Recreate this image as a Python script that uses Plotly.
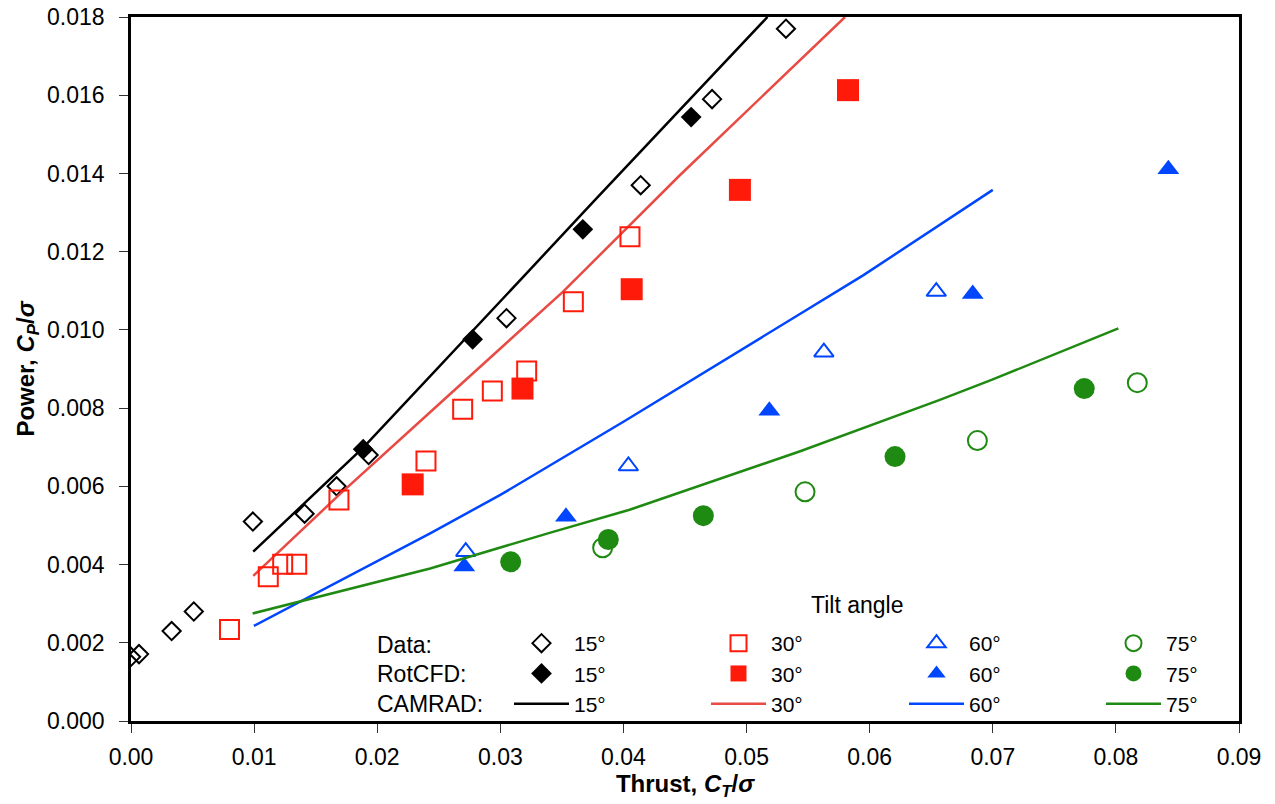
import plotly.graph_objects as go

# ---------------- data ----------------
data15_x = [0.0000, 0.00065, 0.0033, 0.0051, 0.0099, 0.0141, 0.0167, 0.0193, 0.0305, 0.0414, 0.0472, 0.0532]
data15_y = [0.00164, 0.00171, 0.0023, 0.0028, 0.0051, 0.0053, 0.0060, 0.0068, 0.0103, 0.0137, 0.0159, 0.0177]
cfd15_x = [0.01886, 0.02775, 0.0367, 0.0455]
cfd15_y = [0.00695, 0.00976, 0.01257, 0.01544]
cam15_x = [0.00993, 0.0189, 0.0319, 0.0376, 0.0517]
cam15_y = [0.00433, 0.0070, 0.01137, 0.01329, 0.0180]

data30_x = [0.0080, 0.01115, 0.01232, 0.01346, 0.01689, 0.02396, 0.02694, 0.02935, 0.03214, 0.03593, 0.04053]
data30_y = [0.00234, 0.00369, 0.00401, 0.00401, 0.00565, 0.00665, 0.00797, 0.00844, 0.00895, 0.01072, 0.01238]
cfd30_x = [0.02288, 0.0318, 0.04067, 0.04946, 0.05824]
cfd30_y = [0.00605, 0.0085, 0.01104, 0.01358, 0.01613]
cam30_x = [0.00993, 0.0169, 0.0255, 0.0351, 0.0446, 0.0580]
cam30_y = [0.00371, 0.00578, 0.00824, 0.01098, 0.01396, 0.0180]

data60_x = [0.02719, 0.0404, 0.05628, 0.06541]
data60_y = [0.00433, 0.00652, 0.00943, 0.01098]
cfd60_x = [0.02707, 0.03533, 0.05185, 0.06837, 0.08426]
cfd60_y = [0.00395, 0.00522, 0.00793, 0.01092, 0.01411]
cam60_x = [0.00998, 0.0243, 0.0300, 0.0400, 0.0543, 0.0595, 0.0700]
cam60_y = [0.00243, 0.0048, 0.00578, 0.00765, 0.0104, 0.0114, 0.01358]

data75_x = [0.03831, 0.05475, 0.06875, 0.08174]
data75_y = [0.00443, 0.00586, 0.00717, 0.00865]
cfd75_x = [0.03084, 0.03877, 0.04649, 0.06206, 0.07743]
cfd75_y = [0.00407, 0.00464, 0.00525, 0.00676, 0.0085]
cam75_x = [0.00988, 0.0191, 0.0243, 0.0340, 0.0405, 0.0543, 0.0657, 0.0699, 0.0802]
cam75_y = [0.00275, 0.00348, 0.0039, 0.00481, 0.0054, 0.00689, 0.00821, 0.00872, 0.01004]

x_ticks = [0.00, 0.01, 0.02, 0.03, 0.04, 0.05, 0.06, 0.07, 0.08, 0.09]
y_ticks = [0.000, 0.002, 0.004, 0.006, 0.008, 0.010, 0.012, 0.014, 0.016, 0.018]
angle_labels = ["15°", "30°", "60°", "75°"]
row_labels = ["Data:", "RotCFD:", "CAMRAD:"]

# ---------------- styles ----------------
FONT = "Liberation Sans, Arial, sans-serif"
FS = 23
LFS = 21
BLACK = "#000000"
RED = "#ff1a0a"
RED_LINE = "#e84a44"
BLUE = "#0046ff"
GREEN = "#1f8a12"

fig = go.Figure()

series = [
    (data15_x, data15_y, cfd15_x, cfd15_y, cam15_x, cam15_y, BLACK, BLACK, "diamond", 14, 16, "legend"),
    (data30_x, data30_y, cfd30_x, cfd30_y, cam30_x, cam30_y, RED, RED_LINE, "square", 19, 22, "legend2"),
    (data60_x, data60_y, cfd60_x, cfd60_y, cam60_x, cam60_y, BLUE, BLUE, "triangle-up", 17, 19, "legend3"),
    (data75_x, data75_y, cfd75_x, cfd75_y, cam75_x, cam75_y, GREEN, GREEN, "circle", 19, 21, "legend4"),
]

for i, (dx, dy, cx, cy, lx, ly, col, lcol, sym, s_open, s_fill, leg) in enumerate(series):
    lab = angle_labels[i]
    fig.add_trace(go.Scatter(
        x=lx, y=ly, mode="lines", name=lab, legend=leg, legendrank=3,
        line=dict(color=lcol, width=2.5)))
    fig.add_trace(go.Scatter(
        x=dx, y=dy, mode="markers", name=lab, legend=leg, legendrank=1,
        marker=dict(symbol=sym + "-open", size=s_open, color=col, line=dict(color=col, width=2))))
    fig.add_trace(go.Scatter(
        x=cx, y=cy, mode="markers", name=lab, legend=leg, legendrank=2,
        marker=dict(symbol=sym, size=s_fill, color=col, line=dict(width=0))))

L, R, T, B = 131, 36, 17, 83
W, H = 1275, 804
pw = W - L - R
ph = H - T - B

def px2x(px):
    return (px - L) / pw

def py2y(py):
    return (H - B - py) / ph

leg_common = dict(
    font=dict(family=FONT, size=LFS, color="black"),
    bgcolor="rgba(0,0,0,0)", borderwidth=0, itemwidth=55,
    tracegroupgap=0, yanchor="top", xanchor="left", traceorder="normal",
    itemclick=False, itemdoubleclick=False,
)
leg_x = [509, 706, 904, 1101]
leg_y = 623
legends = {}
for k, name in enumerate(["legend", "legend2", "legend3", "legend4"]):
    legends[name] = dict(x=px2x(leg_x[k]), y=py2y(leg_y), **leg_common)

annotations = [
    dict(text="Tilt angle", x=px2x(857), y=py2y(605), xref="paper", yref="paper",
         showarrow=False, font=dict(family=FONT, size=FS, color="black"), xanchor="center", yanchor="middle"),
]
for lab, yy in zip(row_labels, [645, 674, 704]):
    annotations.append(dict(text=lab, x=px2x(375), y=py2y(yy), xref="paper", yref="paper",
                            showarrow=False, font=dict(family=FONT, size=FS, color="black"),
                            xanchor="left", yanchor="middle"))

fig.update_layout(
    width=W, height=H,
    margin=dict(l=L, r=R, t=T, b=B, autoexpand=False),
    paper_bgcolor="white", plot_bgcolor="white",
    font=dict(family=FONT, size=FS, color="black"),
    showlegend=True,
    annotations=annotations,
    **legends,
)

fig.update_xaxes(
    range=[0, 0.09], tickvals=x_ticks, ticktext=[f"{v:.2f}" for v in x_ticks],
    showgrid=False, zeroline=False, showline=True, linecolor="black", linewidth=2.5, mirror=True,
    ticks="outside", ticklen=9, tickwidth=1, tickcolor="#333", ticklabelstandoff=5,
    tickfont=dict(family=FONT, size=FS, color="black"), automargin=False,
    title=dict(text="<b>Thrust, <i>C<sub>T</sub></i>/<i>σ</i></b>", font=dict(family=FONT, size=24), standoff=4),
)
fig.update_yaxes(
    range=[0, 0.018], tickvals=y_ticks, ticktext=[f"{v:.3f}" for v in y_ticks],
    showgrid=False, zeroline=False, showline=True, linecolor="black", linewidth=2.5, mirror=True,
    ticks="outside", ticklen=9, tickwidth=1, tickcolor="#333", ticklabelstandoff=10,
    tickfont=dict(family=FONT, size=FS, color="black"), automargin=False,
    title=dict(text="<b>Power, <i>C<sub>P</sub></i>/<i>σ</i></b>", font=dict(family=FONT, size=24), standoff=6),
)

fig.write_html("out.html")
